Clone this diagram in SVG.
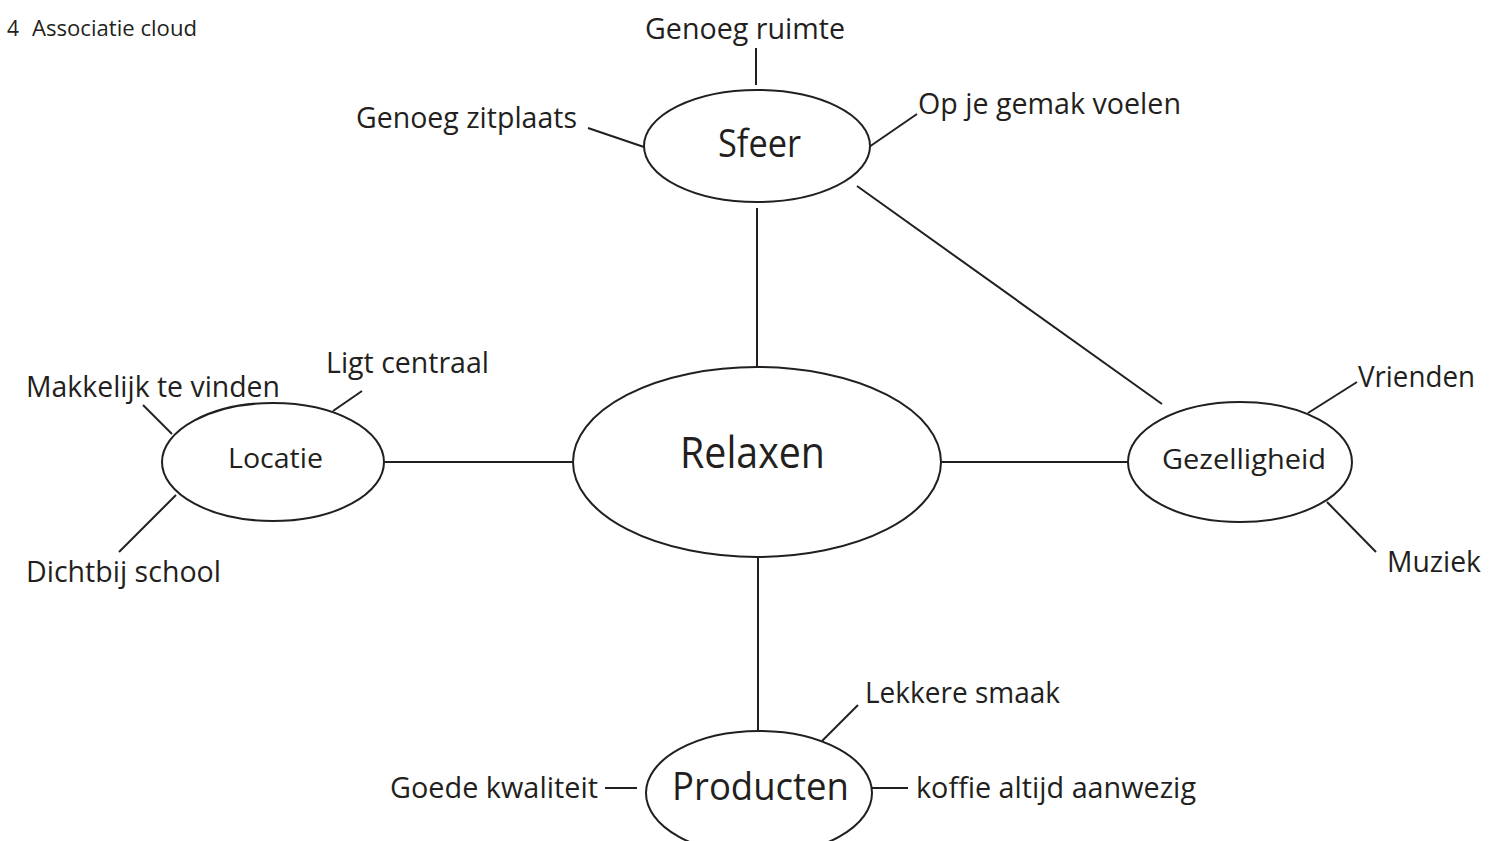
<svg xmlns="http://www.w3.org/2000/svg" width="1500" height="841" viewBox="0 0 1500 841">
  <style>
    .bg { fill: #ffffff; }
    .node { fill: #ffffff; stroke: #231f20; stroke-width: 2; }
    .link { stroke: #231f20; stroke-width: 2; fill: none; }
    text { font-family: "Open Sans", "Noto Sans", sans-serif; fill: #231f20; }
    .title { font-size: 21px; }
    .label { font-size: 29px; }
    .mid { font-size: 27px; }
    .big { font-size: 39px; }
    .core { font-size: 43px; }
  </style>
  <rect class="bg" x="0" y="0" width="1500" height="841"/>

  <!-- heading -->
  <g id="title">
    <text class="title" x="7" y="36">4</text>
    <text class="title" x="32" y="36" textLength="165" lengthAdjust="spacingAndGlyphs">Associatie cloud</text>
  </g>

  <!-- connectors -->
  <g id="connectors">
    <line class="link" x1="756" y1="48" x2="756" y2="85"/>
    <line class="link" x1="588" y1="128" x2="644" y2="147"/>
    <line class="link" x1="869" y1="147" x2="917" y2="114"/>
    <line class="link" x1="757" y1="208" x2="757" y2="367"/>
    <line class="link" x1="857" y1="186" x2="1162" y2="404"/>
    <line class="link" x1="333" y1="411" x2="362" y2="391"/>
    <line class="link" x1="143" y1="405" x2="172" y2="434"/>
    <line class="link" x1="176" y1="495" x2="119" y2="552"/>
    <line class="link" x1="384" y1="462" x2="573" y2="462"/>
    <line class="link" x1="941" y1="462" x2="1128" y2="462"/>
    <line class="link" x1="1308" y1="413" x2="1357" y2="382"/>
    <line class="link" x1="1327" y1="502" x2="1376" y2="552"/>
    <line class="link" x1="758" y1="557" x2="758" y2="731"/>
    <line class="link" x1="822" y1="741" x2="858" y2="705"/>
    <line class="link" x1="605" y1="788" x2="637" y2="788"/>
    <line class="link" x1="870" y1="788" x2="908" y2="788"/>
  </g>

  <!-- Sfeer -->
  <g id="node-sfeer">
    <ellipse class="node" cx="757" cy="146" rx="113" ry="56"/>
    <text class="big" x="718" y="157" textLength="83" lengthAdjust="spacingAndGlyphs">Sfeer</text>
    <text class="label" x="645" y="39" textLength="200" lengthAdjust="spacingAndGlyphs">Genoeg ruimte</text>
    <text class="label" x="356" y="128" textLength="221" lengthAdjust="spacingAndGlyphs">Genoeg zitplaats</text>
    <text class="label" x="918" y="114" textLength="263" lengthAdjust="spacingAndGlyphs">Op je gemak voelen</text>
  </g>

  <!-- Relaxen -->
  <g id="node-relaxen">
    <ellipse class="node" cx="757" cy="462" rx="184" ry="95"/>
    <text class="core" x="680" y="468" textLength="145" lengthAdjust="spacingAndGlyphs">Relaxen</text>
  </g>

  <!-- Locatie -->
  <g id="node-locatie">
    <ellipse class="node" cx="273" cy="462" rx="111" ry="59"/>
    <text class="mid" x="228" y="468" textLength="95" lengthAdjust="spacingAndGlyphs">Locatie</text>
    <text class="label" x="326" y="373" textLength="163" lengthAdjust="spacingAndGlyphs">Ligt centraal</text>
    <text class="label" x="26" y="397" textLength="254" lengthAdjust="spacingAndGlyphs">Makkelijk te vinden</text>
    <text class="label" x="26" y="582" textLength="195" lengthAdjust="spacingAndGlyphs">Dichtbij school</text>
  </g>

  <!-- Gezelligheid -->
  <g id="node-gezelligheid">
    <ellipse class="node" cx="1240" cy="462" rx="112" ry="60"/>
    <text class="mid" x="1162" y="469" textLength="164" lengthAdjust="spacingAndGlyphs">Gezelligheid</text>
    <text class="label" x="1358" y="387" textLength="117" lengthAdjust="spacingAndGlyphs">Vrienden</text>
    <text class="label" x="1387" y="572" textLength="94" lengthAdjust="spacingAndGlyphs">Muziek</text>
  </g>

  <!-- Producten -->
  <g id="node-producten">
    <ellipse class="node" cx="759" cy="793" rx="113" ry="62"/>
    <text class="big" x="672" y="800" textLength="177" lengthAdjust="spacingAndGlyphs">Producten</text>
    <text class="label" x="865" y="703" textLength="195" lengthAdjust="spacingAndGlyphs">Lekkere smaak</text>
    <text class="label" x="390" y="798" textLength="208" lengthAdjust="spacingAndGlyphs">Goede kwaliteit</text>
    <text class="label" x="916" y="798" textLength="280" lengthAdjust="spacingAndGlyphs">koffie altijd aanwezig</text>
  </g>
</svg>
